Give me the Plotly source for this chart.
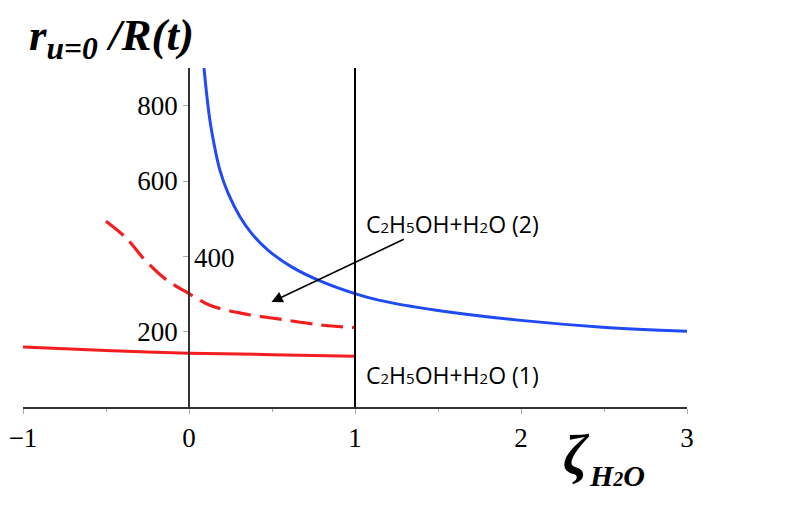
import plotly.graph_objects as go

# curves
h2o_x = [0.088, 0.106, 0.126, 0.150, 0.186, 0.236, 0.307, 0.377, 0.477, 0.618, 0.778, 1.0, 1.149, 1.49, 2.0, 2.49, 3.0]
h2o_y = [912, 832, 761, 700, 629, 567, 505, 461, 416, 372, 337, 301, 283, 257, 230, 212, 201]

mix2_x = [-0.5, -0.375, -0.265, -0.134, 0.0, 0.126, 0.327, 0.567, 0.808, 1.0]
mix2_y = [493, 447, 390, 337, 301, 270, 248, 232, 217, 211]

mix1_x = [-1.0, -0.5, 0.0, 0.5, 1.0]
mix1_y = [159, 150, 143, 139, 135]

x_ticks = [-1, 0, 1, 2, 3]
x_labels = ["−1", "0", "1", "2", "3"]
y_ticks = [200, 400, 600, 800]
y_labels = ["200", "", "600", "800"]  # 400 is written inside the plot, see below

BLUE = "#1f4af5"
RED = "#f51d1d"
SERIF = "Liberation Serif"
SANS = "Open Sans"


def small(s, size=15):
    return "<span style='font-size:%dpx'>%s</span>" % (size, s)


fig = go.Figure()
fig.add_trace(go.Scatter(x=mix1_x, y=mix1_y, mode="lines", line=dict(color=RED, width=3, shape="spline")))
fig.add_trace(go.Scatter(x=mix2_x, y=mix2_y, mode="lines", line=dict(color=RED, width=3.2, dash="22px,9px", shape="spline")))
fig.add_trace(go.Scatter(x=h2o_x, y=h2o_y, mode="lines", line=dict(color=BLUE, width=3, shape="spline")))

# vertical line at zeta = 1
fig.add_shape(type="line", x0=1, x1=1, y0=0, y1=900, line=dict(color="black", width=2))

lab2 = "C" + small("2") + "H" + small("5") + "OH+H" + small("2") + "O (2)"
lab1 = "C" + small("2") + "H" + small("5") + "OH+H" + small("2") + "O (1)"
fig.add_annotation(x=1.052, y=485, text=lab2, showarrow=False, xanchor="left", yanchor="middle",
                   font=dict(family=SANS, size=23, color="black"))
fig.add_annotation(x=1.052, y=84, text=lab1, showarrow=False, xanchor="left", yanchor="middle",
                   font=dict(family=SANS, size=23, color="black"))
fig.add_annotation(x=3.01, y=257, text="H" + small("2") + "O", showarrow=False, xanchor="right", yanchor="middle",
                   font=dict(family=SANS, size=23, color="black"))
fig.add_annotation(x=0.016, y=395, text="400", showarrow=False, xanchor="left", yanchor="middle",
                   font=dict(family=SERIF, size=27, color="black"))

# arrow pointing at the dashed curve
fig.add_annotation(x=0.497, y=279, ax=1.303, ay=447, axref="x", ayref="y", text="",
                   showarrow=True, arrowhead=2, arrowsize=1.4, arrowwidth=1.6, arrowcolor="black")

# axis titles (page is drawn 8px in from the window corner)
W, H = 790, 524
L, T, PW, PH = 14.6, 60.3, 664.1, 338.4


def px(x):
    return (x - 8 - L) / PW


def py(y):
    return (T + PH - (y - 8)) / PH


fig.add_annotation(xref="paper", yref="paper", x=px(27), y=py(8),
                   text="<b><i>r<sub>u=0</sub> /R(t)</i></b>", showarrow=False, xanchor="left", yanchor="top",
                   font=dict(family=SERIF, size=45, color="black"))
fig.add_annotation(xref="paper", yref="paper", x=px(561), y=py(455),
                   text="<b><i>ζ</i></b>", showarrow=False, xanchor="left", yanchor="middle",
                   font=dict(family=SERIF, size=56, color="black"))
fig.add_annotation(xref="paper", yref="paper", x=px(587), y=py(475),
                   text="<b><i>H" + small("2", 20) + "O</i></b>", showarrow=False, xanchor="left", yanchor="middle",
                   font=dict(family=SERIF, size=30, color="black"))

fig.update_layout(
    width=W, height=H,
    margin=dict(l=L, r=W - L - PW, t=T, b=H - T - PH, pad=0),
    paper_bgcolor="white", plot_bgcolor="white",
    showlegend=False,
    xaxis=dict(range=[-1, 3], tickvals=x_ticks, ticktext=x_labels, automargin=False,
               showgrid=False, zeroline=False, showline=True, linecolor="#333", linewidth=1.5,
               ticks="outside", ticklen=5, tickcolor="#aaa", ticklabelstandoff=1,
               minor=dict(tickvals=[-0.5, 0.5, 1.5, 2.5], ticks="outside", ticklen=3, tickcolor="#aaa"),
               tickfont=dict(family=SERIF, size=27, color="black")),
    yaxis=dict(range=[0, 900], tickvals=y_ticks, ticktext=y_labels, automargin=False,
               anchor="free", position=0.25,
               showgrid=False, zeroline=False, showline=True, linecolor="#333", linewidth=1.5,
               ticks="outside", ticklen=5, tickcolor="#aaa",
               tickfont=dict(family=SERIF, size=27, color="black")),
)

fig.write_html("out.html")
